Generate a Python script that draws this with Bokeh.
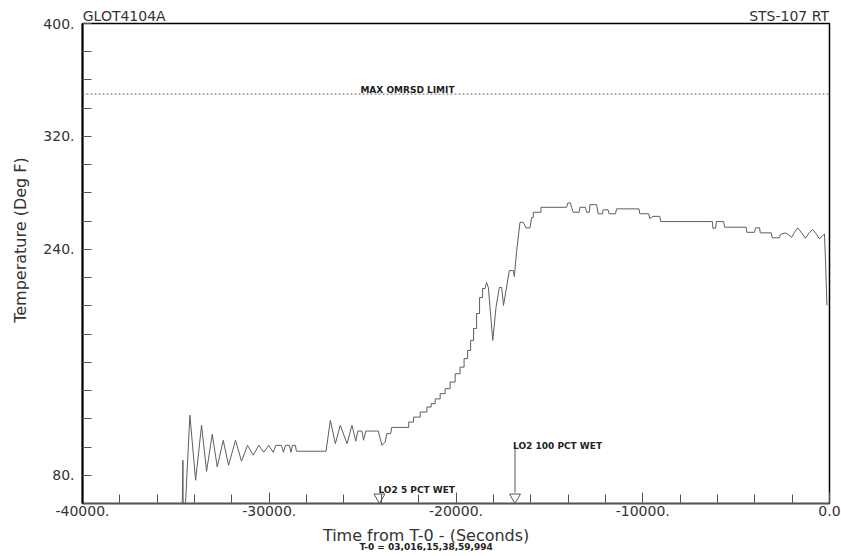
import math
from bokeh.plotting import figure
from bokeh.models import (FixedTicker, CustomJSTickFormatter, Span, Label, Range1d,
                          LinearAxis, Title)
from bokeh.embed import file_html
from bokeh.resources import INLINE

# ---------------- data (time from T-0 in s, temperature in deg F) ----------------
osc1_t = [-34680, -34623, -34600, -34560, -34249, -33944, -33624, -33356, -33052, -32784,
          -32464, -32180, -31806, -31485, -31165, -30860, -30561, -30294, -30026, -29791,
          -29642, -29348, -29241, -29134, -28920, -28840, -28760, -28599, -28546, -27050]
osc1_T = [40, 90.6, 40, 40, 122.5, 76.5, 115.4, 82.8, 109.0, 85.9,
          104.8, 87.1, 104.8, 89.9, 101.2, 94.2, 101.2, 96.3, 101.2, 96.3,
          101.2, 101.2, 96.3, 101.2, 101.2, 96.3, 101.2, 101.2, 97.0, 97.0]

osc2_t = [-26960, -26728, -26461, -26194, -25836, -25569, -25366, -25259, -25036, -24951,
          -24831, -24163, -23965, -23789, -23708, -23495, -23441, -22533]
osc2_T = [97.0, 118.9, 102.4, 115.4, 102.4, 115.4, 104.1, 111.3, 111.3, 104.8,
          111.3, 111.3, 101.2, 103.6, 109.5, 109.5, 113.9, 113.9]

rise_t = [-22533, -22276, -22276, -21918, -21918, -21560, -21560, -21330, -21330, -21116,
          -21116, -20849, -20849, -20582, -20582, -20315, -20315, -20047, -20047, -19780,
          -19780, -19567, -19567, -19380, -19380, -19219, -19219, -19059, -19059, -18898,
          -18898, -18738, -18738, -18577, -18577, -18444, -18364]
rise_T = [117.7, 117.7, 121.2, 121.2, 124.8, 124.8, 128.3, 128.3, 130.7, 130.7,
          134.1, 134.1, 137.8, 137.8, 141.3, 141.3, 146.0, 146.0, 151.9, 151.9,
          156.6, 156.6, 162.6, 162.6, 168.4, 168.4, 175.5, 175.5, 184.0, 184.0,
          194.6, 194.6, 205.9, 205.9, 212.3, 212.3, 216.6]

dip_t = [-18267, -18032, -17856, -17680, -17552, -17455, -17321, -17145, -16931, -16877,
         -16749, -16573, -16397, -16253, -16039, -15948, -15860, -15860, -15451, -15451]
dip_T = [213.0, 175.5, 199.1, 213.0, 213.0, 200.3, 210.9, 225.0, 225.0, 220.8,
         239.2, 259.2, 259.2, 255.2, 255.2, 262.7, 262.7, 266.3, 266.3, 269.8]

top_t = [-14078, -14008, -13874, -13810, -13724, -13404, -13366, -13072, -13008, -12858,
         -12831, -12473, -12388, -12153, -12121, -11854, -11800, -11458, -11405, -10197,
         -10159, -9678, -9624, -9533, -9448, -9090, -9037]
top_T = [269.8, 272.9, 272.9, 269.8, 266.3, 266.3, 269.8, 269.8, 266.3, 266.3,
         271.7, 271.7, 265.2, 265.2, 268.0, 268.0, 265.2, 265.2, 268.7, 268.7,
         265.2, 265.2, 261.8, 262.7, 263.4, 263.4, 259.7]

tail_t = [-6274, -6242, -6098, -6061, -5670, -5617, -4457, -4425, -4013, -3960,
          -3746, -3708, -3120, -3067, -2677, -2640, -2357, -2180, -2019, -1875,
          -1699, -1517, -1287, -1073, -897, -715, -538, -393, -270, -217, -137]
tail_T = [259.7, 255.0, 255.0, 259.7, 259.7, 255.7, 255.7, 252.1, 252.1, 255.3,
          255.3, 251.7, 251.7, 248.2, 248.2, 250.5, 251.7, 250.3, 248.6, 252.1,
          255.3, 252.1, 247.9, 252.1, 254.0, 251.0, 247.5, 249.3, 251.0, 233.3, 200.3]

limit_value = 350
limit_text = "MAX OMRSD LIMIT"
event_t = [-24100, -16840]
event_text = ["LO2 5 PCT WET", "LO2 100 PCT WET"]

x_major = [-40000, -30000, -20000, -10000, 0]
x_minor = [v for v in range(-38000, 0, 2000) if v % 10000 != 0]
y_major = [80, 240, 320, 400]
y_minor = [v for v in range(80, 400, 20) if v not in y_major]

header_text = ["GLOT4104A", "STS-107 RT"]
x_title = "Time from T-0 - (Seconds)"
x_subtitle = "T-0 = 03,016,15,38,59,994"
y_title = "Temperature (Deg F)"

# ---------------- figure ----------------
X0, X1, Y0, Y1 = -40000, 0, 60, 400
FW, FH = 747, 480
LEFT = 82
sx = (X1 - X0) / FW   # data units per px
sy = (Y1 - Y0) / FH

TXT = "#333333"
FONT = "DejaVu Sans"

p = figure(frame_width=FW, frame_height=FH, x_range=Range1d(X0, X1), y_range=Range1d(Y0, Y1),
           output_backend="svg", toolbar_location=None,
           min_border_left=LEFT, min_border_top=23, min_border_right=12, min_border_bottom=53)
p.grid.visible = False
p.outline_line_color = "black"
p.outline_line_width = 1.5
p.background_fill_color = "white"
p.border_fill_color = "white"

t_all = osc1_t + osc2_t + rise_t + dip_t + top_t + tail_t
T_all = osc1_T + osc2_T + rise_T + dip_T + top_T + tail_T
p.line(t_all, T_all, line_color="#5e5e5e", line_width=1)

# limit line
p.add_layout(Span(location=limit_value, dimension="width", line_color="#666666",
                  line_dash="2 2", line_width=1))
p.add_layout(Label(x=-25120, y=limit_value, y_offset=4, text=limit_text, text_font=FONT,
                   text_font_size="9px", text_font_style="bold", text_color="#222222",
                   text_baseline="alphabetic", text_align="left"))

# event markers
tri_y = Y0 + 6.3 * sy
p.scatter(event_t, [tri_y] * len(event_t), marker="inverted_triangle", size=11,
          fill_color="white", line_color="#555555", line_width=1)
p.segment(x0=[event_t[1]], y0=[Y0 + 11 * sy], x1=[event_t[1]], y1=[Y0 + 57 * sy],
          line_color="#555555", line_width=1)
p.add_layout(Label(x=event_t[0], y=Y0, x_offset=-1, y_offset=14, text=event_text[0],
                   text_font=FONT, text_font_size="9px", text_font_style="bold",
                   text_color="#222222", text_baseline="alphabetic"))
p.add_layout(Label(x=event_t[1], y=Y0, x_offset=-2, y_offset=58, text=event_text[1],
                   text_font=FONT, text_font_size="9px", text_font_style="bold",
                   text_color="#222222", text_baseline="alphabetic"))

# axes
p.xaxis.ticker = FixedTicker(ticks=x_major, minor_ticks=x_minor)
p.xaxis.formatter = CustomJSTickFormatter(code="""
if (tick == 0) { return "0.0"; }
return tick.toFixed(0) + ".";
""")
p.yaxis.ticker = FixedTicker(ticks=y_major, minor_ticks=y_minor)
p.yaxis.formatter = CustomJSTickFormatter(code="return tick.toFixed(0) + '.';")

for ax in (p.xaxis[0], p.yaxis[0]):
    ax.major_tick_out = 0
    ax.minor_tick_out = 0
    ax.major_tick_line_color = "#555555"
    ax.minor_tick_line_color = "#555555"
    ax.major_label_text_font = FONT
    ax.major_label_text_font_size = "14px"
    ax.major_label_text_color = TXT

p.xaxis.major_tick_in = 11
p.xaxis.minor_tick_in = 9
p.xaxis.axis_line_color = "#555555"
p.xaxis.axis_line_width = 1.5
p.xaxis.major_label_standoff = 2
p.yaxis.major_tick_in = 9
p.yaxis.minor_tick_in = 9
p.yaxis.axis_line_color = "black"
p.yaxis.axis_line_width = 2
p.yaxis.major_label_standoff = 8


def text_axis(ticks, texts, size, style, color, standoff):
    """A tickless, lineless axis that only carries the given texts at the given x positions."""
    return LinearAxis(
        ticker=FixedTicker(ticks=ticks, minor_ticks=[]),
        formatter=CustomJSTickFormatter(args=dict(names=texts), code="return names[index];"),
        axis_line_color=None, major_tick_line_color=None, minor_tick_line_color=None,
        major_tick_in=0, major_tick_out=0, minor_tick_in=0, minor_tick_out=0,
        major_label_standoff=standoff, major_label_text_font=FONT,
        major_label_text_font_size=size, major_label_text_font_style=style,
        major_label_text_color=color)


# header texts flush with the frame corners (centres from estimated text widths in px)
w_left = 5.958 * 14
w_right = 5.774 * 14
p.add_layout(text_axis([X0 + w_left / 2 * sx, X1 - w_right / 2 * sx], header_text,
                       "14px", "normal", TXT, 0), "above")

# x axis title and the T-0 line underneath it
x_title_center = -21600
p.add_layout(text_axis([x_title_center], [x_title], "16px", "normal", TXT, 7), "below")
p.add_layout(text_axis([x_title_center], [x_subtitle], "9px", "bold", "#222222", -6), "below")

# y axis title
w_yt = 10.537 * 16
p.add_layout(Title(text=y_title, align="left", offset=265 - w_yt / 2, standoff=17,
                   vertical_align="top",
                   text_font=FONT, text_font_size="16px", text_font_style="normal",
                   text_color=TXT), "left")

open("out.html", "w").write(file_html(p, INLINE))
